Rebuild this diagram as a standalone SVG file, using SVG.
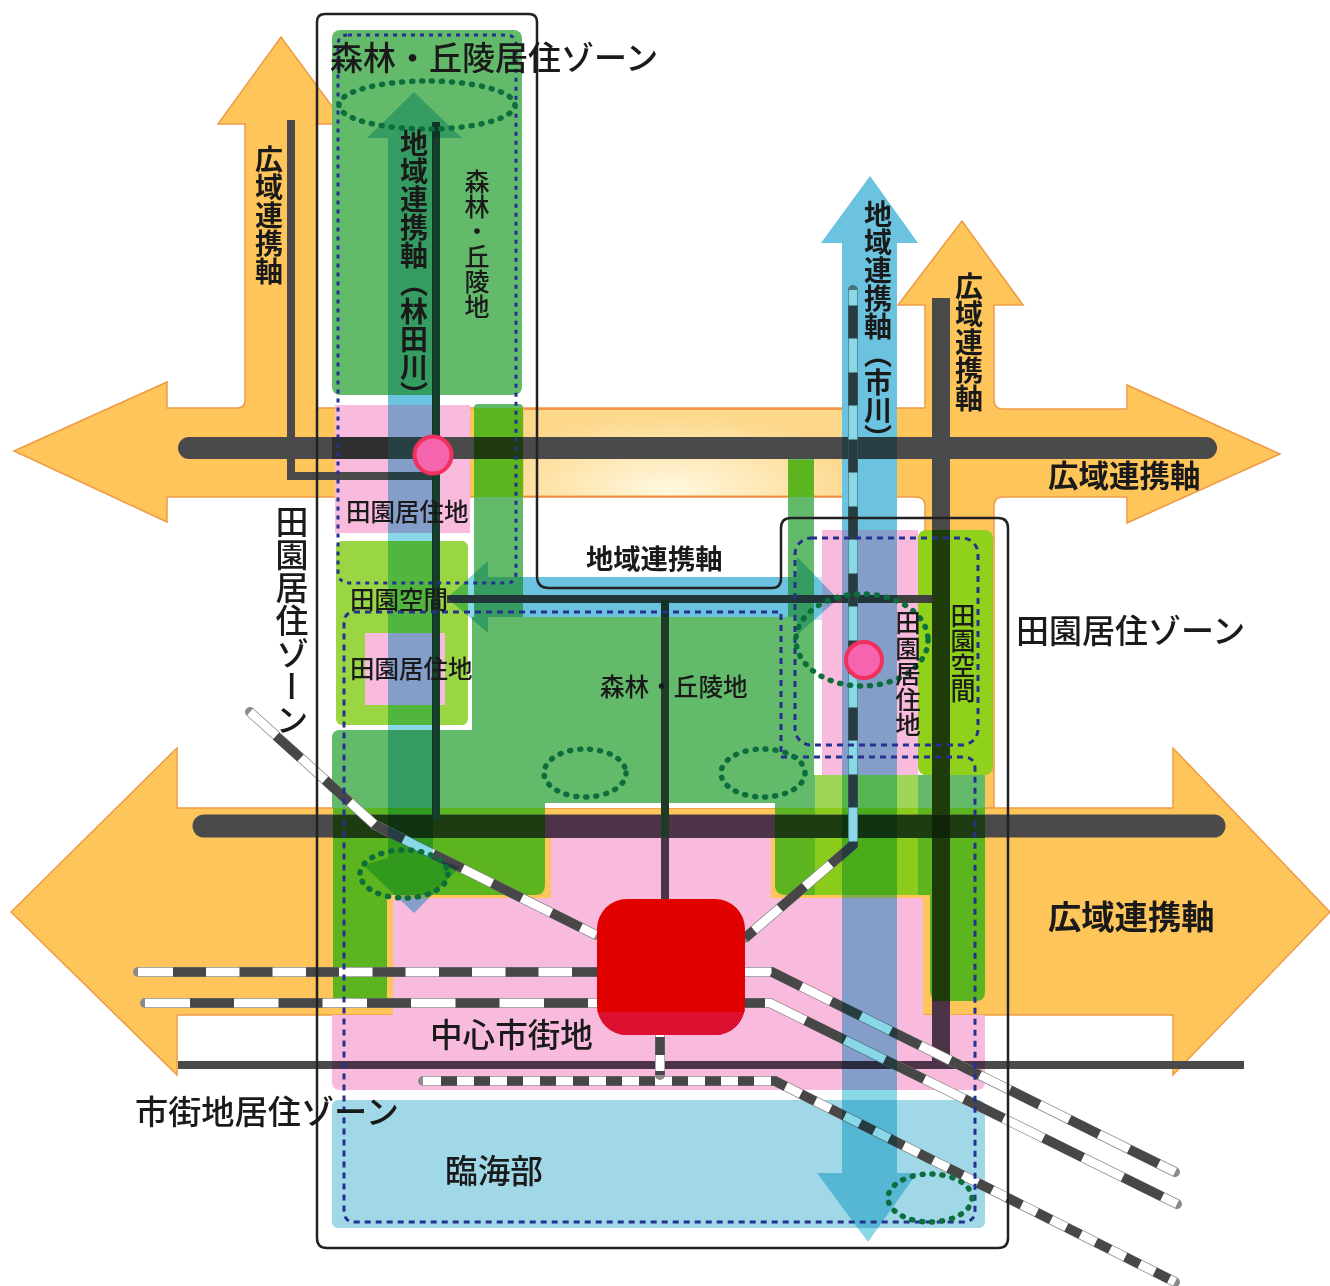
<svg xmlns="http://www.w3.org/2000/svg" width="1330" height="1286" viewBox="0 0 1330 1286">
<defs>
<radialGradient id="glow" gradientUnits="userSpaceOnUse" cx="0" cy="0" r="1" gradientTransform="translate(670 490) scale(190 75)"><stop offset="0" stop-color="#fff8e0"/><stop offset="1" stop-color="#fdd88c"/></radialGradient>
</defs>
<style>
text{font-family:"Noto Sans CJK JP","Noto Sans",sans-serif;fill:#1a1a1a;font-weight:500}
.v{writing-mode:vertical-rl}
text.b{font-weight:700}
.or{fill:#fec55a;stroke:#ef9a45;stroke-width:1.5}
.f{fill:#63ba6b}.fd{fill:#5cb51e}.p{fill:#f8bbdd}.l{fill:#9ad643}.s{fill:#a0d8e8}
.ul{fill:#c8e6f6}
.riv{fill:#88d8e8;mix-blend-mode:multiply}
.road{fill:none;stroke:#4a4a4a;stroke-linecap:round}
.box{fill:none;stroke:#222;stroke-width:2.5}
.dash{fill:none;stroke:#25308f;stroke-width:3;stroke-dasharray:6 5}
.dot{fill:none;stroke:#0c6e3c;stroke-width:5.5;stroke-dasharray:1 9;stroke-linecap:round}
.rb{fill:none;stroke:#8a8a8a;stroke-width:10;stroke-linecap:round}
.rw{fill:none;stroke:#fff;stroke-width:8.5}
.rd{fill:none;stroke:#474747;stroke-width:9.5}
.c{fill:#f565ae;stroke:#f0305f;stroke-width:4}
</style>
<g id="wide-axes">
<path class="or" d="M14,451 L167,382 V408 H237 Q245,408 245,400 V124 H218 L281,37 L345,124 H317 V408 H925 V305 H898 L962,221 L1023,305 H994 V400 Q994,409 1003,409 H1127 V385 L1280,454 L1127,523 V497 H1003 Q994,497 994,506 V808 H925 V506 Q925,497 916,497 H167 V522 Z"/>
<rect x="524" y="410" width="318" height="85.500" fill="url(#glow)"/>
<path d="M524,409 H842 M524,496.500 H842" stroke="#ef8a45" stroke-width="1.500" fill="none"/>
<path class="or" d="M11,912 L177,748 V808 H1173 V748 L1330,912 L1173,1075 V1015 H177 V1075 Z"/>
</g>
<g id="zones">
<rect x="332" y="30" width="190" height="365" rx="8" class="f"/>
<rect x="335" y="405" width="135" height="128" class="p"/>
<rect x="474" y="404" width="49" height="215" rx="4" class="f"/>
<rect x="474" y="408" width="49" height="89" class="fd"/>
<rect x="332" y="537" width="140" height="192" fill="#fff"/>
<rect x="336" y="541" width="132" height="184" rx="6" class="l"/>
<rect x="365" y="633" width="80" height="72" class="p"/>
<path class="f" d="M472,617 H788 V458 Q788,453 793,453 H809 Q814,453 814,458 V775 H985 V808 H775 V803 H545 V808 H332 V738 Q332,730 340,730 H472 Z"/>
<rect x="545" y="803" width="230" height="5" fill="#fff"/>
<rect x="788" y="460" width="26" height="37" class="fd"/>
<rect x="822" y="530" width="96" height="245" class="p"/>
<rect x="918" y="530" width="75" height="245" rx="8" fill="#8fd11b"/>
<rect x="815" y="775" width="103" height="33" fill="#9fd658"/>
<rect x="918" y="775" width="67" height="33" class="f"/>
<path class="p" d="M332,1015 H393 V898 H551 V815 H771 V898 H923 V1015 H985 V1082 Q985,1090 977,1090 H340 Q332,1090 332,1082 Z"/>
<path class="fd" d="M333,808 H545 V885 Q545,895 535,895 H387 V998 H333 Z"/>
<path class="fd" d="M775,808 H985 V992 Q985,1001 976,1001 H941 Q930,1001 930,990 V895 H786 Q775,895 775,885 Z"/>
<rect x="815" y="808" width="103" height="87" fill="#8bcb1c"/>
<rect x="332" y="1100" width="653" height="128" rx="6" class="s"/>
</g>
<g id="connectors">
<path class="ul" d="M870,176 L918,243 H897 V530 H842 V243 H821 Z"/>
<rect class="ul" x="388" y="395" width="45" height="10"/>
<rect class="ul" x="523" y="577" width="265" height="40"/>
<path class="ul" d="M814,577 H822 V620 H814 Z"/>
<path class="road" stroke-width="22" d="M189,448 H1206"/>
<rect x="332" y="437" width="56" height="22" fill="#2f2f2f"/>
<rect x="474" y="437" width="49" height="22" fill="#203a10"/>
<rect x="932" y="437" width="18" height="22" fill="#222"/>
<path class="road" stroke-width="23" d="M204,826 H1214"/>
<rect x="333" y="815" width="212" height="23" fill="#1e3c12"/>
<rect x="545" y="815" width="230" height="23" fill="#4d3347"/>
<rect x="775" y="815" width="210" height="23" fill="#1e3c12"/>
<path d="M291,120 V476 H432" fill="none" stroke="#4a4a4a" stroke-width="8"/>
<path d="M436,122 V820" fill="none" stroke="#173d2d" stroke-width="8"/>
<path d="M447,599 H935" fill="none" stroke="#3f3f3f" stroke-width="8"/>
<path d="M665,600 V838" fill="none" stroke="#1f3a26" stroke-width="8"/>
<path d="M665,838 V900" fill="none" stroke="#4d3347" stroke-width="8"/>
<path d="M941,298 V530" fill="none" stroke="#4a4a4a" stroke-width="18"/>
<path d="M941,530 V1001" fill="none" stroke="#1e3c0a" stroke-width="18"/>
<path d="M941,1001 V1066" fill="none" stroke="#4d3347" stroke-width="18"/>
<rect x="932" y="815" width="18" height="23" fill="#10240a"/>
<path d="M178,1065 H1244" fill="none" stroke="#4a4a4a" stroke-width="8"/>
<path d="M332,1065 H985" fill="none" stroke="#4d3347" stroke-width="8"/>
<g id="rails">
<path class="rb" d="M138,972 H772 L1175,1172"/><path class="rw" d="M138,972 H772 L1175,1172"/><path class="rd" stroke-dasharray="33 33.500" d="M173,972 H772 L1175,1172"/>
<path class="rb" d="M145,1003 H770 L1177,1204"/><path class="rw" d="M145,1003 H770 L1177,1204"/><path class="rd" stroke-dasharray="44 44.500" d="M190,1003 H770 L1177,1204"/>
<path class="rb" d="M423,1081 H775 L1175,1282"/><path class="rw" d="M423,1081 H775 L1175,1282"/><path class="rd" stroke-dasharray="16 17" d="M441,1081 H775 L1175,1282"/>
<path class="rb" d="M250,712 L375,825 L596,935"/><path class="rw" d="M250,712 L375,825 L596,935"/><path class="rd" stroke-dasharray="33 33" d="M276,736 L375,825 L596,935"/>
<path class="rb" d="M745,938 L853,845 V290"/><path class="rw" d="M745,938 L853,845 V290"/><path class="rd" stroke-dasharray="33 34" stroke-dashoffset="-46" d="M745,938 L853,845 V290"/>
<path class="rd" stroke-width="9" d="M745,938 L752,932"/>
<path class="rb" d="M660,1035 V1075"/><path class="rw" d="M660,1035 V1075"/><path class="rd" stroke-dasharray="18 16" d="M660,1037 V1075"/>
</g>
<path class="riv" d="M414,92 L462,138 H433 V858 L460,867 L414,913 L363,865 L388,858 V138 H367 Z"/>
<path class="riv" d="M447,598 L488,561 V577 H797 V557 L838,599 L797,635 V617 H488 V633 Z"/>
<path class="riv" d="M870,176 L918,243 H897 V1173 H917 L868,1242 L817,1173 H842 V243 H821 Z"/>
</g>
<g id="zone-outlines">
<path class="box" d="M325,14 H529 Q537,14 537,22 V576 Q537,588 549,588 H772 Q781,588 781,578 V528 Q781,518 791,518 H998 Q1008,518 1008,528 V1238 Q1008,1248 998,1248 H327 Q317,1248 317,1238 V22 Q317,14 325,14 Z"/>
<path class="dash" style="stroke-dasharray:4 5" d="M348,35 H506 Q516,35 516,45 V573 Q516,583 506,583 H350 Q338,583 338,571 V45 Q338,35 348,35 Z"/>
<path class="dash" d="M354,612 H781 V757 H963 Q975,757 975,769 V1210 Q975,1222 963,1222 H354 Q344,1222 344,1210 V624 Q344,612 354,612 Z"/>
<rect class="dash" x="795" y="538" width="183" height="207" rx="16"/>
<ellipse class="dot" cx="427" cy="105" rx="88" ry="24"/>
<ellipse class="dot" cx="585" cy="773" rx="41" ry="24"/>
<ellipse class="dot" cx="763" cy="773" rx="42" ry="24"/>
<ellipse class="dot" cx="862" cy="640" rx="66" ry="46"/>
<ellipse class="dot" cx="404" cy="874" rx="44" ry="24"/>
<ellipse class="dot" cx="930" cy="1198" rx="42" ry="24"/>
</g>
<g id="center-node">
<rect x="597" y="899" width="148" height="136" rx="30" fill="#e00000"/>
<path d="M597,1012 H745 V1005 A30,30 0 0 1 715,1035 H627 A30,30 0 0 1 597,1005 Z" fill="#dc1030"/>
</g>
<g id="hub-1"><circle class="c" cx="433" cy="455" r="18.500"/></g>
<g id="hub-2"><circle class="c" cx="864" cy="660" r="18"/></g>
<g id="labels">
<text x="330" y="70" font-size="33">森林・丘陵居住ゾーン</text>
<text class="v b" x="414" y="129" font-size="28">地域連携軸（林田川）</text>
<text class="v" x="477" y="169" font-size="25">森林・丘陵地</text>
<text class="v b" x="269" y="145" font-size="28">広域連携軸</text>
<text class="v b" x="878" y="200" font-size="28">地域連携軸（市川）</text>
<text class="v b" x="969" y="272" font-size="28">広域連携軸</text>
<text class="b" x="1048" y="487" font-size="30.500">広域連携軸</text>
<text class="b" x="1048" y="929" font-size="33.300">広域連携軸</text>
<text class="b" x="586" y="569" font-size="27.300">地域連携軸</text>
<text class="v" x="292" y="505" font-size="33">田園居住ゾーン</text>
<text x="346" y="521" font-size="24.500">田園居住地</text>
<text x="350" y="609" font-size="24.500">田園空間</text>
<text x="350" y="678" font-size="24.500">田園居住地</text>
<text x="600" y="696" font-size="24.600">森林・丘陵地</text>
<text class="v" x="908" y="610" font-size="25.500">田園居住地</text>
<text class="v" x="963" y="603" font-size="25">田園空間</text>
<text x="1016" y="643" font-size="33">田園居住ゾーン</text>
<text x="430" y="1047" font-size="32.600">中心市街地</text>
<text x="135" y="1124" font-size="33.200">市街地居住ゾーン</text>
<text x="445" y="1183" font-size="32.700">臨海部</text>
</g>
</svg>
